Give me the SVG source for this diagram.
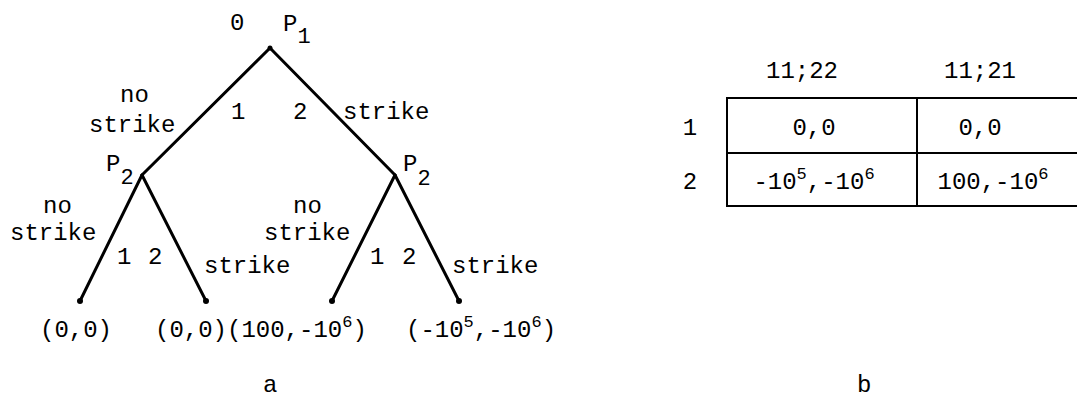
<svg xmlns="http://www.w3.org/2000/svg" width="1077" height="406" viewBox="0 0 1077 406">
<style>
text{font-family:"Liberation Mono","DejaVu Sans Mono",monospace;font-size:24px;fill:#000}
.sup{font-size:17px}
.sub{font-size:22px}
.edge{stroke:#000;stroke-width:3;fill:none;stroke-linecap:round}
.tbl{stroke:#000;stroke-width:2;fill:none}
</style>
<rect width="1077" height="406" fill="#fff"/>
<g id="connectors">
<line class="edge" x1="270" y1="48" x2="142" y2="175"/>
<line class="edge" x1="270" y1="48" x2="395" y2="175"/>
<line class="edge" x1="142" y1="175" x2="80" y2="301"/>
<line class="edge" x1="142" y1="175" x2="206" y2="301"/>
<line class="edge" x1="395" y1="175" x2="332" y2="301"/>
<line class="edge" x1="395" y1="175" x2="459" y2="301"/>
</g>
<g id="root">
<circle cx="270" cy="48" r="2.5"/>
<text x="230" y="30">0</text>
<text x="283" y="31">P<tspan class="sub" dy="12">1</tspan></text>
</g>
<g id="p2-left">
<text x="106" y="171">P<tspan class="sub" dy="13">2</tspan></text>
</g>
<g id="p2-right">
<text x="403" y="171">P<tspan class="sub" dy="14">2</tspan></text>
</g>
<g id="labels-top">
<text x="120" y="102">no</text>
<text x="89" y="132">strike</text>
<text x="231" y="119">1</text>
<text x="293" y="119">2</text>
<text x="343" y="119">strike</text>
</g>
<g id="labels-left">
<text x="43" y="213">no</text>
<text x="10" y="240">strike</text>
<text x="117" y="264">1</text>
<text x="148" y="264">2</text>
<text x="204" y="273">strike</text>
</g>
<g id="labels-right">
<text x="293" y="213">no</text>
<text x="264" y="240">strike</text>
<text x="370" y="264">1</text>
<text x="402" y="264">2</text>
<text x="452" y="273">strike</text>
</g>
<g id="leaf1"><circle cx="80" cy="301" r="3"/><text x="40" y="337">(0,0)</text></g>
<g id="leaf2"><circle cx="206" cy="301" r="3"/><text x="155" y="337">(0,0)</text></g>
<g id="leaf3"><circle cx="332" cy="301" r="3"/><text x="227" y="337">(100,-10<tspan class="sup" dy="-10">6</tspan><tspan dy="10">)</tspan></text></g>
<g id="leaf4"><circle cx="459" cy="301" r="3"/><text x="406" y="337">(-10<tspan class="sup" dy="-10">5</tspan><tspan dy="10">,-10</tspan><tspan class="sup" dy="-10">6</tspan><tspan dy="10">)</tspan></text></g>
<text x="263" y="392">a</text>
<g id="matrix">
<text x="802" y="78" text-anchor="middle">11;22</text>
<text x="980" y="78" text-anchor="middle">11;21</text>
<text x="690" y="135" text-anchor="middle">1</text>
<text x="690" y="189" text-anchor="middle">2</text>
<line class="tbl" x1="727" y1="98" x2="1077" y2="98"/>
<line class="tbl" x1="727" y1="153" x2="1077" y2="153"/>
<line class="tbl" x1="727" y1="206" x2="1077" y2="206"/>
<line class="tbl" x1="727" y1="97" x2="727" y2="207"/>
<line class="tbl" x1="917" y1="97" x2="917" y2="207" stroke-width="1.5"/>
<text x="814" y="135" text-anchor="middle">0,0</text>
<text x="980" y="135" text-anchor="middle">0,0</text>
<text x="814" y="189" text-anchor="middle">-10<tspan class="sup" dy="-10">5</tspan><tspan dy="10">,-10</tspan><tspan class="sup" dy="-10">6</tspan></text>
<text x="993" y="189" text-anchor="middle">100,-10<tspan class="sup" dy="-10">6</tspan></text>
</g>
<text x="857" y="392">b</text>
</svg>
